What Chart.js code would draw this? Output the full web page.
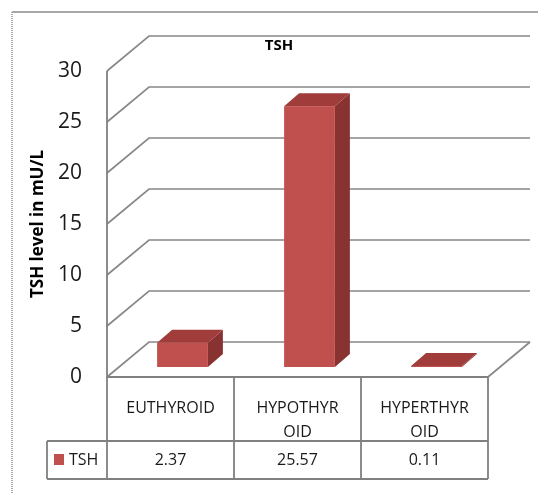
<!DOCTYPE html>
<html>
<head>
<meta charset="utf-8">
<script src="https://cdn.jsdelivr.net/npm/chart.js@4.4.1/dist/chart.umd.min.js"></script>
<style>
  html, body { margin: 0; padding: 0; background: #fff; }
  canvas { display: block; }
</style>
</head>
<body>
<canvas id="c" width="538" height="494"></canvas>
<script>
// Category labels (wrapped the way they appear in the table header)
const categoryLines = [['EUTHYROID'], ['HYPOTHYR', 'OID'], ['HYPERTHYR', 'OID']];
const seriesName = 'TSH';
const tshValues = [2.37, 25.57, 0.11];
const yTicks = [0, 5, 10, 15, 20, 25, 30];
const yTitle = 'TSH level in mU/L';

const FONT = "'Open Sans', sans-serif";
const LINE = '#888888';
const WALL_DX = 42, WALL_DY = -35;   // depth of the 3D walls / floor
const BAR_OX = 12, BAR_OY = -10;     // bars sit part way back on the floor
const BAR_DX = 15, BAR_DY = -13;     // depth of each bar
const FRONT = '#C0504D', TOP = '#A03D3A', SIDE = '#883331';
const HEAD_H = 64, ROW_H = 38, LEGEND_W = 60;

const scene3d = {
  id: 'scene3d',
  beforeDraw(chart) {
    const ctx = chart.ctx;
    ctx.save();
    ctx.strokeStyle = '#a8a8a8';
    ctx.lineWidth = 2;
    ctx.beginPath(); ctx.moveTo(12, 12); ctx.lineTo(chart.width, 12); ctx.stroke();
    ctx.setLineDash([1, 1]);
    ctx.beginPath(); ctx.moveTo(12, 12); ctx.lineTo(12, chart.height); ctx.stroke();
    ctx.restore();
  },
  beforeDatasetsDraw(chart) {
    const { ctx, chartArea: a, scales: { x, y } } = chart;
    ctx.save();
    ctx.strokeStyle = LINE;
    ctx.lineWidth = 1.7;

    // back wall gridlines with their left-wall diagonals
    y.ticks.forEach(t => {
      const py = y.getPixelForValue(t.value);
      ctx.beginPath();
      ctx.moveTo(a.left, py);
      ctx.lineTo(a.left + WALL_DX, py + WALL_DY);
      ctx.lineTo(a.right + WALL_DX, py + WALL_DY);
      ctx.stroke();
    });
    // floor right edge
    ctx.beginPath();
    ctx.moveTo(a.right, a.bottom);
    ctx.lineTo(a.right + WALL_DX, a.bottom + WALL_DY);
    ctx.stroke();

    // 3D bars
    const meta = chart.getDatasetMeta(0);
    meta.data.forEach(bar => {
      const p = bar.getProps(['x', 'y', 'base', 'width'], true);
      const l = p.x - p.width / 2 + BAR_OX, r = p.x + p.width / 2 + BAR_OX;
      const t = p.y + BAR_OY, b = p.base + BAR_OY;
      ctx.fillStyle = SIDE;
      ctx.beginPath();
      ctx.moveTo(r, t); ctx.lineTo(r + BAR_DX, t + BAR_DY);
      ctx.lineTo(r + BAR_DX, b + BAR_DY); ctx.lineTo(r, b);
      ctx.closePath(); ctx.fill();
      ctx.fillStyle = TOP;
      ctx.beginPath();
      ctx.moveTo(l, t); ctx.lineTo(l + BAR_DX, t + BAR_DY);
      ctx.lineTo(r + BAR_DX, t + BAR_DY); ctx.lineTo(r, t);
      ctx.closePath(); ctx.fill();
      ctx.fillStyle = FRONT;
      ctx.fillRect(l, t, r - l, b - t);
    });

    // data table under the plot
    const n = tshValues.length;
    const cw = (a.right - a.left) / n;
    const rowTop = a.bottom + HEAD_H, rowBot = rowTop + ROW_H;
    ctx.strokeStyle = '#808080';
    ctx.lineWidth = 1.8;
    ctx.beginPath();
    ctx.moveTo(a.left, a.top); ctx.lineTo(a.left, rowBot);
    ctx.moveTo(a.left, a.bottom); ctx.lineTo(a.right, a.bottom);
    for (let i = 1; i <= n; i++) {
      const bx = a.left + cw * i;
      ctx.moveTo(bx, a.bottom); ctx.lineTo(bx, rowBot);
    }
    ctx.moveTo(a.left - LEGEND_W, rowTop); ctx.lineTo(a.right, rowTop);
    ctx.moveTo(a.left - LEGEND_W, rowBot); ctx.lineTo(a.right, rowBot);
    ctx.moveTo(a.left - LEGEND_W, rowTop); ctx.lineTo(a.left - LEGEND_W, rowBot);
    ctx.stroke();

    ctx.font = `16px ${FONT}`;
    ctx.fillStyle = '#1a1a1a';
    ctx.textAlign = 'center';
    ctx.textBaseline = 'middle';
    const my = rowTop + ROW_H / 2;
    tshValues.forEach((v, i) => ctx.fillText(String(v), x.getPixelForValue(i), my));

    ctx.fillStyle = FRONT;
    ctx.fillRect(a.left - 53, my - 6, 10, 11);
    ctx.fillStyle = '#1a1a1a';
    ctx.textAlign = 'left';
    ctx.fillText(seriesName, a.left - 38, my);
    ctx.restore();
    return false;
  }
};

new Chart(document.getElementById('c'), {
  type: 'bar',
  data: {
    labels: categoryLines,
    datasets: [{
      label: seriesName,
      data: tshValues,
      backgroundColor: FRONT,
      categoryPercentage: 1,
      barPercentage: 0.4
    }]
  },
  options: {
    responsive: false,
    animation: false,
    layout: { padding: { left: 20, right: 0, top: 0, bottom: 0 } },
    plugins: {
      legend: { display: false },
      tooltip: { enabled: false },
      title: {
        display: true,
        text: seriesName,
        color: '#000',
        font: { family: FONT, size: 15, weight: 'bold' },
        padding: { top: 37, bottom: 16 }
      }
    },
    scales: {
      x: {
        grid: { display: false, drawTicks: false },
        border: { display: false },
        ticks: {
          font: { family: FONT, size: 16, lineHeight: 1.5 },
          color: '#1a1a1a',
          padding: 19,
          maxRotation: 0,
          autoSkip: false
        },
        afterFit(s) { s.height = 117; }
      },
      y: {
        min: yTicks[0],
        max: yTicks[yTicks.length - 1],
        grid: { display: false, drawTicks: false },
        border: { display: false },
        ticks: {
          stepSize: yTicks[1] - yTicks[0],
          font: { family: FONT, size: 21 },
          color: '#1a1a1a',
          padding: 25
        },
        title: {
          display: true,
          text: yTitle,
          color: '#000',
          font: { family: FONT, size: 17, weight: 'bold' },
          padding: { top: 8, bottom: 0 }
        },
        afterFit(s) { s.width = 87; }
      },
      yRight: {
        position: 'right',
        grid: { display: false, drawTicks: false },
        border: { display: false },
        ticks: { display: false },
        afterFit(s) { s.width = 50; }
      }
    }
  },
  plugins: [scene3d]
});
</script>
</body>
</html>
